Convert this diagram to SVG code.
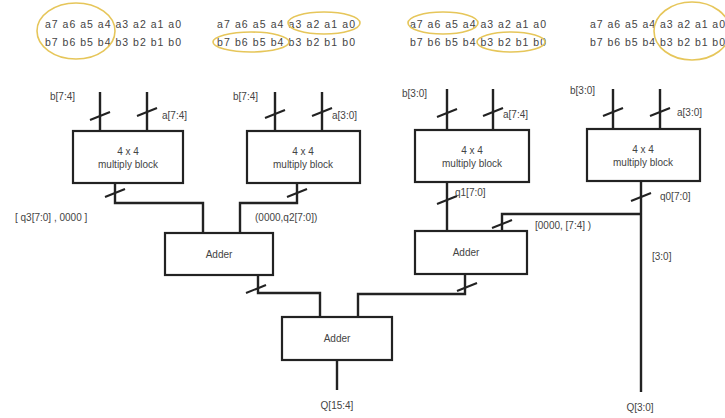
<svg xmlns="http://www.w3.org/2000/svg" xmlns:xlink="http://www.w3.org/1999/xlink" width="725" height="418" viewBox="0 0 725 418">
<style>
text{font-family:"Liberation Sans",Arial,sans-serif;fill:#444;font-size:10px}
.bits{font-size:10.5px}
.mid{text-anchor:middle}
.box{fill:#fff;stroke:#222;stroke-width:2.2}
.w{fill:none;stroke:#222;stroke-width:2.4}
.ring{fill:none;stroke:#e6c65a;stroke-width:1.6}
</style>
<defs>
<path id="sl" d="M-10,4 L10,-4" stroke="#222" stroke-width="2" fill="none"/>
</defs>
<rect width="725" height="418" fill="#fff"/>
<g id="bits">
<text class="bits" x="45" y="28" textLength="136">a7 a6 a5 a4 a3 a2 a1 a0</text>
<text class="bits" x="45" y="46" textLength="136">b7 b6 b5 b4 b3 b2 b1 b0</text>
<ellipse class="ring" cx="76" cy="31" rx="39" ry="28"/>
<text class="bits" x="217" y="28" textLength="138">a7 a6 a5 a4 a3 a2 a1 a0</text>
<text class="bits" x="217" y="46" textLength="138">b7 b6 b5 b4 b3 b2 b1 b0</text>
<ellipse class="ring" cx="324" cy="23" rx="36" ry="11"/>
<ellipse class="ring" cx="251" cy="42" rx="38" ry="10"/>
<text class="bits" x="410" y="28" textLength="136">a7 a6 a5 a4 a3 a2 a1 a0</text>
<text class="bits" x="410" y="46" textLength="136">b7 b6 b5 b4 b3 b2 b1 b0</text>
<ellipse class="ring" cx="443" cy="23" rx="35" ry="11"/>
<ellipse class="ring" cx="511" cy="42" rx="34" ry="10"/>
<text class="bits" x="590" y="28" textLength="135">a7 a6 a5 a4 a3 a2 a1 a0</text>
<text class="bits" x="590" y="46" textLength="135">b7 b6 b5 b4 b3 b2 b1 b0</text>
<ellipse class="ring" cx="692" cy="31" rx="38" ry="29"/>
</g>
<g id="connectors">
<path class="w" d="M100,92V131M147,92V131"/>
<path class="w" d="M275,92V131M322,92V131"/>
<path class="w" d="M447,89V130M493,89V130"/>
<path class="w" d="M613,89V129M660,89V129"/>
<path class="w" d="M115,183V203H203V233"/>
<path class="w" d="M297,183V203H240V233"/>
<path class="w" d="M447,182V231"/>
<path class="w" d="M641,181V392M641,214H502V231"/>
<path class="w" d="M258,275V293H320V317"/>
<path class="w" d="M465,274V294H358V317"/>
<path class="w" d="M337,360V390"/>
<use xlink:href="#sl" x="100" y="116"/>
<use xlink:href="#sl" x="147" y="112"/>
<use xlink:href="#sl" x="275" y="114"/>
<use xlink:href="#sl" x="322" y="112"/>
<use xlink:href="#sl" x="447" y="113"/>
<use xlink:href="#sl" x="493" y="112"/>
<use xlink:href="#sl" x="613" y="112"/>
<use xlink:href="#sl" x="660" y="112"/>
<use xlink:href="#sl" x="115" y="193"/>
<use xlink:href="#sl" x="297" y="193"/>
<use xlink:href="#sl" x="447" y="200"/>
<use xlink:href="#sl" x="641" y="197"/>
<use xlink:href="#sl" x="502" y="224"/>
<use xlink:href="#sl" x="256" y="289"/>
<use xlink:href="#sl" x="467" y="287"/>
<text x="50" y="100">b[7:4]</text>
<text x="162" y="119">a[7:4]</text>
<text x="233" y="100">b[7:4]</text>
<text x="332" y="119">a[3:0]</text>
<text x="402" y="97">b[3:0]</text>
<text x="503" y="118">a[7:4]</text>
<text x="570" y="94">b[3:0]</text>
<text x="677" y="116">a[3:0]</text>
<text x="15" y="221">[ q3[7:0] , 0000 ]</text>
<text x="255" y="221">(0000,q2[7:0])</text>
<text x="455" y="196">q1[7:0]</text>
<text x="660" y="200">q0[7:0]</text>
<text x="535" y="229">[0000, [7:4] )</text>
<text x="652" y="260">[3:0]</text>
<text class="mid" x="337" y="409">Q[15:4]</text>
<text class="mid" x="640" y="411">Q[3:0]</text>
</g>
<g id="mult3">
<rect class="box" x="73" y="131" width="110" height="52"/>
<text class="mid" x="128" y="155">4 x 4</text>
<text class="mid" x="128" y="168">multiply block</text>
</g>
<g id="mult2">
<rect class="box" x="247" y="131" width="113" height="52"/>
<text class="mid" x="303" y="155">4 x 4</text>
<text class="mid" x="303" y="168">multiply block</text>
</g>
<g id="mult1">
<rect class="box" x="415" y="130" width="114" height="52"/>
<text class="mid" x="472" y="154">4 x 4</text>
<text class="mid" x="472" y="167">multiply block</text>
</g>
<g id="mult0">
<rect class="box" x="587" y="129" width="113" height="52"/>
<text class="mid" x="643" y="153">4 x 4</text>
<text class="mid" x="643" y="166">multiply block</text>
</g>
<g id="adder1">
<rect class="box" x="165" y="233" width="108" height="42"/>
<text class="mid" x="219" y="258">Adder</text>
</g>
<g id="adder2">
<rect class="box" x="415" y="231" width="112" height="43"/>
<text class="mid" x="466" y="256">Adder</text>
</g>
<g id="adder3">
<rect class="box" x="282" y="317" width="110" height="43"/>
<text class="mid" x="337" y="342">Adder</text>
</g>
</svg>
